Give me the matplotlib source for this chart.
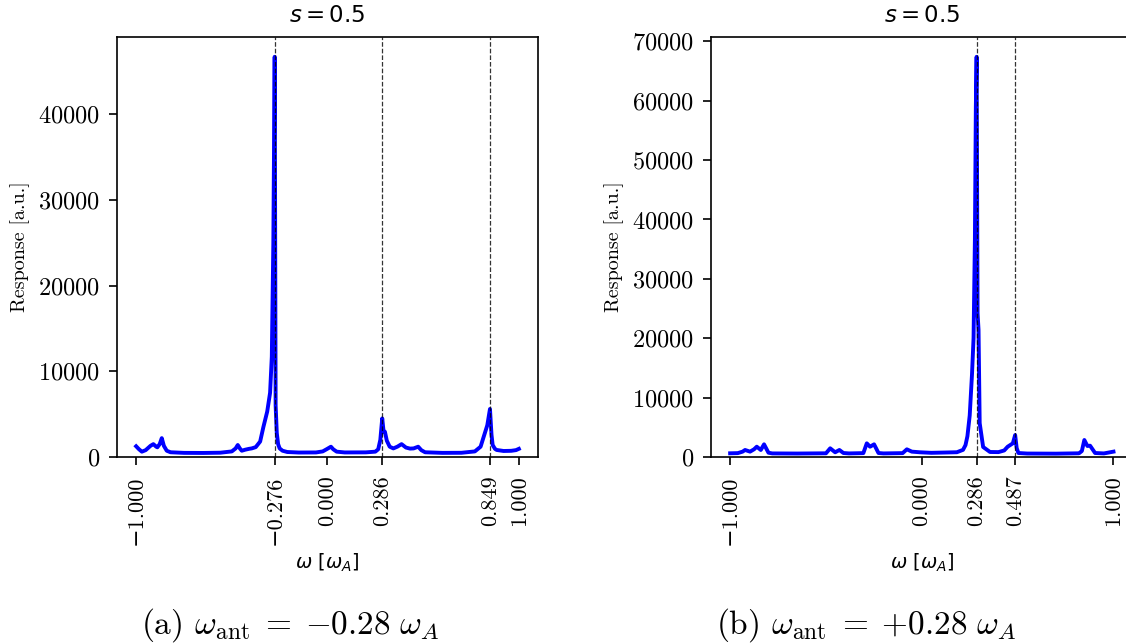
#!/usr/bin/env python3
"""
Response spectra for the two antenna detunings (s = 0.5)
"""

import matplotlib
matplotlib.use("Agg")
import matplotlib.pyplot as plt

# --- data ------------------------------------------------------------------
# (a) w_ant = -0.28 w_A
left_w = [-1.000, -0.985, -0.970, -0.950, -0.925, -0.910, -0.895, -0.889, -0.877, -0.866,
          -0.855, -0.840, -0.820, -0.750, -0.650, -0.560, -0.500, -0.480, -0.469, -0.458,
          -0.448, -0.430, -0.410, -0.396, -0.375, -0.352, -0.335, -0.315, -0.300, -0.291,
          -0.283, -0.276, -0.271, -0.265, -0.258, -0.250, -0.235, -0.210, -0.150, -0.060,
          -0.025, -0.005, 0.018, 0.030, 0.048, 0.090, 0.200, 0.250, 0.265, 0.276,
          0.286, 0.293, 0.300, 0.310, 0.325, 0.344, 0.365, 0.387, 0.410, 0.431,
          0.450, 0.474, 0.490, 0.510, 0.600, 0.700, 0.770, 0.800, 0.814, 0.835,
          0.849, 0.857, 0.863, 0.875, 0.884, 0.920, 0.960, 0.985, 1.000]
left_resp = [1250, 900, 620, 800, 1300, 1500, 1200, 1130, 1500, 2200,
             1300, 730, 550, 480, 470, 500, 650, 1000, 1400, 1000,
             730, 850, 950, 1000, 1150, 1800, 3500, 5300, 7500, 11700,
             25000, 46700, 6000, 2800, 1500, 1000, 730, 580, 520, 530,
             650, 900, 1200, 900, 620, 530, 540, 620, 900, 2000,
             4500, 3000, 2950, 1900, 1200, 1000, 1200, 1500, 1100, 980,
             1000, 1200, 800, 550, 480, 490, 650, 1200, 2200, 3700,
             5600, 2600, 1400, 950, 820, 700, 720, 800, 950]
left_ticks = [-1.000, -0.276, 0.000, 0.286, 0.849, 1.000]
left_marks = [-0.276, 0.286, 0.849]

# (b) w_ant = +0.28 w_A
right_w = [-1.000, -0.960, -0.935, -0.922, -0.896, -0.875, -0.861, -0.840, -0.823, -0.800,
           -0.780, -0.650, -0.500, -0.478, -0.452, -0.430, -0.409, -0.380, -0.305, -0.287,
           -0.270, -0.249, -0.226, -0.200, -0.100, -0.078, -0.052, -0.009, 0.050, 0.120,
           0.183, 0.215, 0.228, 0.238, 0.250, 0.262, 0.270, 0.277, 0.282, 0.286,
           0.291, 0.296, 0.302, 0.320, 0.356, 0.400, 0.430, 0.448, 0.475, 0.487,
           0.495, 0.504, 0.550, 0.700, 0.820, 0.835, 0.848, 0.864, 0.878, 0.904,
           0.950, 1.000]
right_resp = [620, 650, 900, 1180, 900, 1300, 1730, 1180, 2130, 720,
              600, 580, 620, 1460, 790, 1180, 670, 600, 650, 2300,
              1730, 2130, 670, 600, 650, 1290, 900, 790, 700, 750,
              800, 1200, 2000, 3500, 7000, 14000, 20000, 36500, 59000, 67400,
              24200, 21400, 5700, 1680, 840, 820, 1100, 1730, 2300, 3700,
              1500, 670, 580, 560, 620, 1000, 2860, 1850, 1900, 670,
              600, 900]
right_ticks = [-1.000, 0.000, 0.286, 0.487, 1.000]
right_marks = [0.286, 0.487]

captions = [r"(a) $\omega_{\mathrm{ant}} \;=\; {-0.28}\ \omega_A$",
            r"(b) $\omega_{\mathrm{ant}} \;=\; {+0.28}\ \omega_A$"]

# --- style ------------------------------------------------------------------
plt.rcParams['font.family'] = ['cmr10', 'DejaVu Serif']
plt.rcParams['axes.formatter.use_mathtext'] = True
plt.rcParams['xtick.labelsize'] = 16
plt.rcParams['ytick.labelsize'] = 17.5
plt.rcParams['axes.linewidth'] = 1.2
plt.rcParams['xtick.major.size'] = 6
plt.rcParams['ytick.major.size'] = 6
plt.rcParams['xtick.major.width'] = 1.2
plt.rcParams['ytick.major.width'] = 1.2
plt.rcParams['xtick.major.pad'] = 7.5
plt.rcParams['ytick.major.pad'] = 6


def draw_panel(ax, w, resp, ticks, marks):
    ax.plot(w, resp, color='b', lw=2.8)
    for m in marks:
        ax.axvline(m, color='k', ls='--', lw=0.9, alpha=0.8)
    ax.set_ylim(bottom=0)
    ax.set_xticks(ticks)
    ax.set_xticklabels([f"{t:.3f}".replace('-', '\u2212') for t in ticks], rotation=90)
    ax.set_xlabel(r"$\omega\ [\omega_A]$", fontsize=14, labelpad=5)
    ax.set_ylabel("Response [a.u.]", fontsize=14.5, labelpad=6)
    ax.set_title(r"$s = 0.5$", fontsize=16.5, pad=11)


fig = plt.figure(figsize=(11.26, 6.44), dpi=100)
ax1 = fig.add_axes([0.1039, 0.2904, 0.3739, 0.6522])
ax2 = fig.add_axes([0.6314, 0.2904, 0.3745, 0.6522])

draw_panel(ax1, left_w, left_resp, left_ticks, left_marks)
draw_panel(ax2, right_w, right_resp, right_ticks, right_marks)

fig.text(290 / 1126, 1 - 634 / 644, captions[0], ha='center', va='baseline',
         fontsize=24, math_fontfamily='cm')
fig.text(866 / 1126, 1 - 634 / 644, captions[1], ha='center', va='baseline',
         fontsize=24, math_fontfamily='cm')

fig.savefig("out.png", dpi=100)
plt.close(fig)
